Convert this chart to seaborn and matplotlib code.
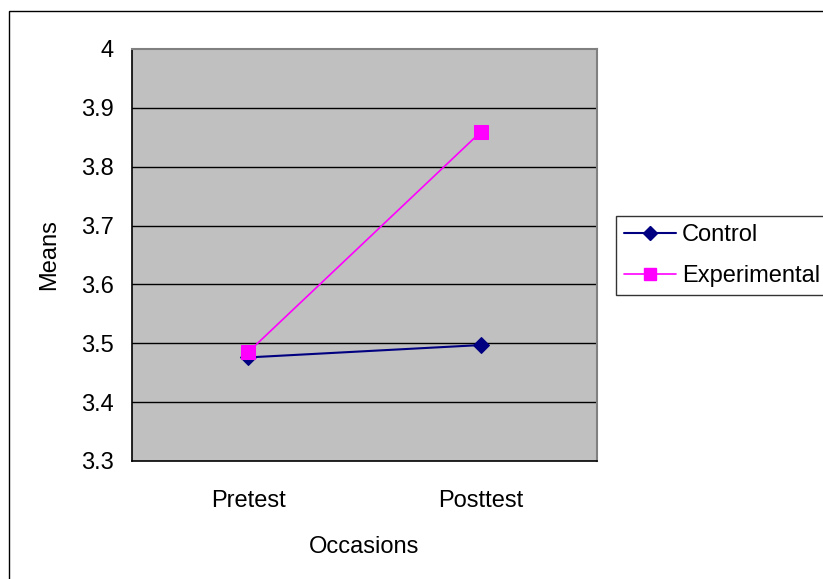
import matplotlib
matplotlib.use("Agg")
import matplotlib.pyplot as plt
from matplotlib.patches import Rectangle
from matplotlib.lines import Line2D
import seaborn as sns
import pandas as pd

# Group means by measurement occasion
occasions = ["Pretest", "Posttest"]
control = [3.476, 3.497]
experimental = [3.485, 3.859]
y_ticks = [3.3, 3.4, 3.5, 3.6, 3.7, 3.8, 3.9, 4.0]
y_tick_labels = ["3.3", "3.4", "3.5", "3.6", "3.7", "3.8", "3.9", "4"]

df = pd.DataFrame({
    "Occasions": occasions * 2,
    "Means": control + experimental,
    "Group": ["Control"] * 2 + ["Experimental"] * 2,
})

sns.set_theme(style="white")
plt.rcParams["font.family"] = ["Liberation Sans", "DejaVu Sans"]
plt.rcParams["text.color"] = "black"
plt.rcParams["axes.labelcolor"] = "black"
plt.rcParams["xtick.color"] = "black"
plt.rcParams["ytick.color"] = "black"
FS = 17

W, H = 823, 579
fig = plt.figure(figsize=(W / 100, H / 100), dpi=100)
ax = fig.add_axes([132 / W, 1 - 461 / H, (597 - 132) / W, (461 - 49) / H])
ax.set_facecolor("#C0C0C0")

pos = {name: i for i, name in enumerate(occasions)}
df["x"] = df["Occasions"].map(pos)

styles = {
    "Control": dict(color="#000080", marker="D", ms=8, lw=1.5),
    "Experimental": dict(color="#FF00FF", marker="s", ms=10, lw=1.2),
}

# gridlines
for v in y_ticks[1:-1]:
    ax.axhline(v, color="#000000", lw=1.0, zorder=1)

for grp, st in styles.items():
    sub = df[df["Group"] == grp]
    sns.lineplot(data=sub, x="x", y="Means", ax=ax, color=st["color"],
                 marker=st["marker"], markersize=st["ms"], linewidth=st["lw"],
                 markeredgecolor=st["color"], legend=False, zorder=3)

ax.set_xlim(-0.5, 1.5)
ax.set_ylim(3.3, 4.0)
ax.set_yticks(y_ticks)
ax.set_yticklabels(y_tick_labels, fontsize=FS)
ax.set_xticks([0, 1])
ax.set_xticklabels(occasions, fontsize=FS)
ax.set_xticks([-0.5, 0.5, 1.5], minor=True)
ax.tick_params(axis="x", which="major", length=0, pad=21)
ax.tick_params(axis="x", which="minor", length=6, width=1, color="black", direction="out")
ax.tick_params(axis="y", which="major", length=6, width=1, color="black", direction="out", pad=7)

for side in ["top", "right"]:
    ax.spines[side].set_color("#808080")
    ax.spines[side].set_linewidth(1.5)
for side in ["left", "bottom"]:
    ax.spines[side].set_color("black")
    ax.spines[side].set_linewidth(1.2)

ax.set_xlabel("Occasions", fontsize=FS, labelpad=17)
ax.set_ylabel("Means", fontsize=FS, labelpad=15)

handles = [Line2D([0], [0], color=st["color"], marker=st["marker"], markersize=st["ms"] - 1,
                  lw=st["lw"], markeredgecolor=st["color"]) for st in styles.values()]
leg = fig.legend(handles, list(styles.keys()), loc="upper left",
                 bbox_to_anchor=(616 / W, 1 - 216 / H), fontsize=FS,
                 frameon=True, fancybox=False, edgecolor="black",
                 handlelength=2.2, handletextpad=0.25, borderpad=0.35,
                 labelspacing=0.8, borderaxespad=0)
leg.get_frame().set_linewidth(1.0)

# outer chart border
fig.patches.append(Rectangle((8.5 / W, -0.1), 1.2, 1 - 10.5 / H + 0.1,
                             transform=fig.transFigure, fill=False,
                             edgecolor="black", lw=1.0))

fig.savefig("out.png", dpi=100, facecolor="white")
